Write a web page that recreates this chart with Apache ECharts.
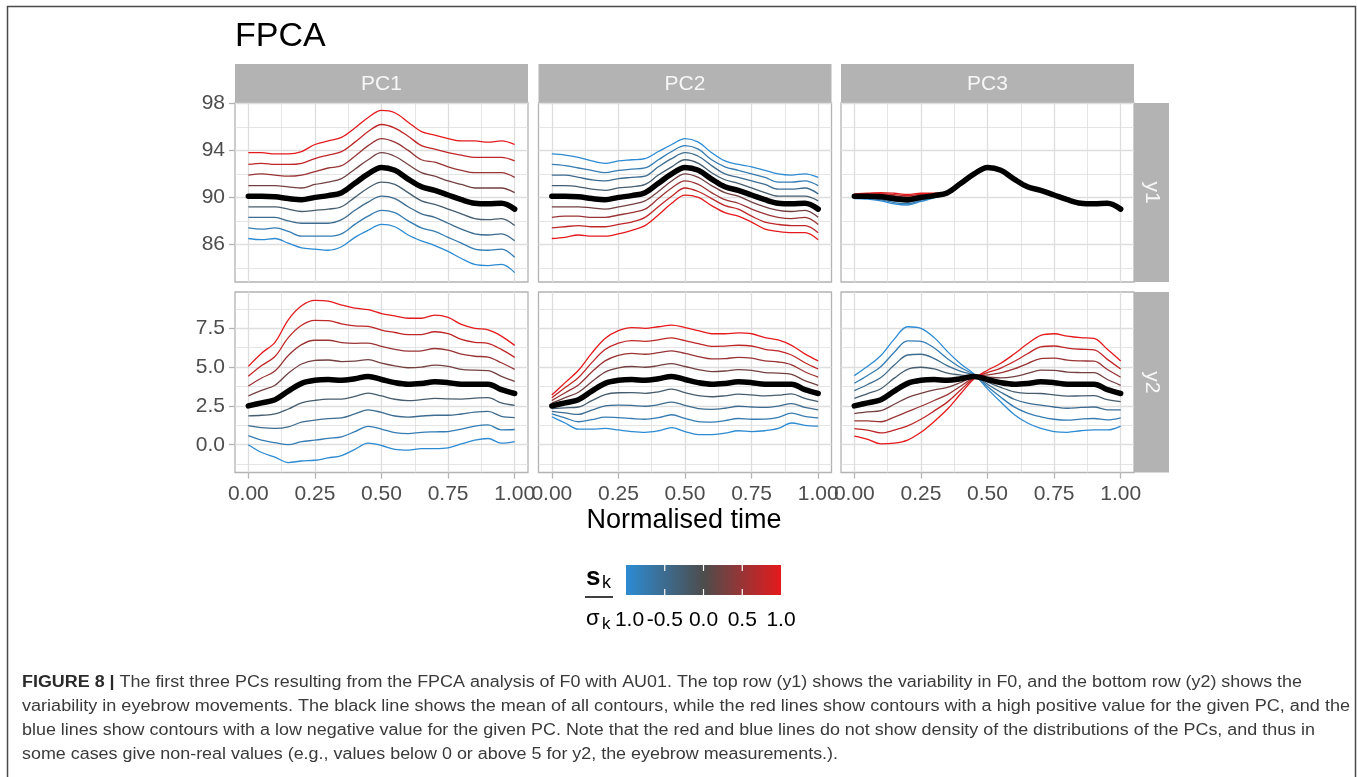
<!DOCTYPE html>
<html><head><meta charset="utf-8">
<script src="https://cdn.jsdelivr.net/npm/echarts@6/dist/echarts.min.js"></script>
<style>html,body{margin:0;padding:0;background:#fff;}#c{width:1357px;height:777px;}</style>
</head><body><div id="c"></div>
<script>
// ---------- data ----------
const tGrid = [0,0.05,0.1,0.15,0.2,0.25,0.3,0.35,0.4,0.45,0.5,0.55,0.6,0.65,0.7,0.75,0.8,0.85,0.9,0.95,1];
const sLevels = [-1,-0.75,-0.5,-0.25,0.25,0.5,0.75,1];
const pcNames = ['PC1','PC2','PC3'];
const rowNames = ['y1','y2'];
const xMajor = [0,0.25,0.5,0.75,1];
const xMinor = [0.125,0.375,0.625,0.875];
const y1Major = [86,90,94,98];
const y1Minor = [84,88,92,96];
const y2Major = [0,2.5,5,7.5];
const y2Minor = [-1.25,1.25,3.75,6.25,8.75];
const legendBreaks = [-1,-0.5,0,0.5,1];

const meanY1 = [90.1,90.1,90.05,89.9,89.8,90.0,90.15,90.4,91.2,92.0,92.55,92.3,91.55,90.9,90.6,90.2,89.8,89.5,89.45,89.5,89.0];
const meanY2 = [2.5,2.7,2.9,3.45,3.95,4.15,4.2,4.15,4.25,4.4,4.2,4.0,3.9,3.95,4.05,4.0,3.9,3.9,3.9,3.55,3.3];

// lines in sLevels order
const pc1Y1 = [
 [86.5,86.4,86.5,86.1,85.7,85.6,85.5,85.8,86.6,87.2,87.7,87.5,86.8,86.3,85.9,85.4,84.8,84.3,84.2,84.3,83.6],
 [87.4,87.3,87.4,87.1,86.7,86.7,86.7,86.9,87.7,88.4,88.9,88.7,88.0,87.4,87.1,86.6,86.1,85.6,85.5,85.6,84.9],
 [88.3,88.3,88.3,88.0,87.8,87.8,87.8,88.1,88.9,89.6,90.1,89.9,89.2,88.6,88.3,87.8,87.3,86.9,86.8,86.9,86.3],
 [89.2,89.2,89.2,89.0,88.8,88.9,89.0,89.2,90.0,90.8,91.3,91.1,90.4,89.7,89.4,89.0,88.6,88.2,88.1,88.2,87.6],
 [91.0,91.0,91.0,90.9,90.8,91.1,91.3,91.6,92.4,93.2,93.8,93.5,92.8,92.1,91.8,91.4,91.1,90.8,90.8,90.8,90.4],
 [91.9,92.0,91.9,91.8,91.9,92.2,92.5,92.7,93.5,94.4,95.0,94.7,94.0,93.2,93.0,92.6,92.3,92.1,92.1,92.1,91.7],
 [92.8,92.9,92.8,92.8,92.9,93.3,93.6,93.9,94.7,95.6,96.2,95.9,95.2,94.4,94.1,93.8,93.6,93.4,93.4,93.4,93.1],
 [93.8,93.8,93.7,93.7,93.9,94.5,94.8,95.1,95.9,96.8,97.4,97.2,96.4,95.6,95.3,95.0,94.8,94.8,94.7,94.8,94.5]
];
const pc2Y1 = [
 [93.7,93.6,93.4,93.1,92.9,93.1,93.2,93.3,93.9,94.5,95.0,94.7,93.8,93.1,92.8,92.6,92.3,92.0,91.9,92.0,91.7],
 [92.8,92.7,92.5,92.3,92.1,92.3,92.4,92.5,93.2,93.9,94.4,94.1,93.2,92.6,92.3,92.0,91.7,91.3,91.3,91.4,91.0],
 [91.9,91.9,91.7,91.5,91.4,91.6,91.7,91.8,92.6,93.3,93.8,93.5,92.7,92.0,91.7,91.4,91.1,90.7,90.7,90.8,90.3],
 [91.0,91.0,90.9,90.7,90.6,90.8,90.9,91.1,91.9,92.6,93.2,92.9,92.1,91.5,91.2,90.8,90.4,90.1,90.1,90.1,89.7],
 [89.2,89.2,89.2,89.1,89.0,89.2,89.4,89.7,90.5,91.4,92.0,91.7,91.0,90.4,90.1,89.6,89.2,88.9,88.8,88.9,88.3],
 [88.3,88.4,88.4,88.3,88.3,88.5,88.7,89.0,89.9,90.8,91.4,91.1,90.4,89.8,89.5,89.0,88.6,88.3,88.2,88.3,87.7],
 [87.4,87.5,87.6,87.5,87.5,87.7,87.9,88.3,89.2,90.1,90.8,90.5,89.9,89.3,89.0,88.4,87.9,87.7,87.6,87.6,87.0],
 [86.5,86.6,86.8,86.7,86.7,86.9,87.2,87.6,88.5,89.5,90.2,90.0,89.3,88.7,88.4,87.9,87.3,87.1,87.0,87.0,86.4]
];
const pc3Y1 = [
 [89.9,89.85,89.7,89.45,89.35,89.65,89.95,90.3,91.15,91.98,92.55,92.3,91.55,90.9,90.6,90.2,89.8,89.5,89.45,89.5,89.0],
 [89.95,89.91,89.79,89.56,89.46,89.74,90.0,90.33,91.16,91.99,92.55,92.3,91.55,90.9,90.6,90.2,89.8,89.5,89.45,89.5,89.0],
 [90.0,89.98,89.88,89.68,89.58,89.83,90.05,90.35,91.18,91.99,92.55,92.3,91.55,90.9,90.6,90.2,89.8,89.5,89.45,89.5,89.0],
 [90.05,90.04,89.96,89.79,89.69,89.91,90.1,90.38,91.19,92.0,92.55,92.3,91.55,90.9,90.6,90.2,89.8,89.5,89.45,89.5,89.0],
 [90.15,90.16,90.14,90.01,89.91,90.09,90.2,90.43,91.21,92.0,92.55,92.3,91.55,90.9,90.6,90.2,89.8,89.5,89.45,89.5,89.0],
 [90.2,90.23,90.23,90.13,90.03,90.18,90.25,90.45,91.23,92.01,92.55,92.3,91.55,90.9,90.6,90.2,89.8,89.5,89.45,89.5,89.0],
 [90.25,90.29,90.31,90.24,90.14,90.26,90.3,90.48,91.24,92.02,92.55,92.3,91.55,90.9,90.6,90.2,89.8,89.5,89.45,89.5,89.0],
 [90.3,90.35,90.4,90.35,90.25,90.35,90.35,90.5,91.25,92.02,92.55,92.3,91.55,90.9,90.6,90.2,89.8,89.5,89.45,89.5,89.0]
];
const pc1Y2 = [
 [0.0,-0.5,-0.8,-1.15,-1.05,-1.0,-0.85,-0.7,-0.3,0.1,-0.05,-0.3,-0.35,-0.25,-0.25,-0.2,0.05,0.3,0.4,0.1,0.2],
 [0.59,0.3,0.13,0.0,0.2,0.29,0.41,0.51,0.84,1.18,1.01,0.78,0.71,0.8,0.83,0.85,1.01,1.2,1.28,0.96,0.98],
 [1.23,1.1,1.05,1.15,1.45,1.58,1.68,1.73,1.98,2.25,2.08,1.85,1.78,1.85,1.9,1.9,1.98,2.1,2.15,1.83,1.75],
 [1.86,1.9,1.98,2.3,2.7,2.86,2.94,2.94,3.11,3.33,3.14,2.93,2.84,2.9,2.98,2.95,2.94,3.0,3.03,2.69,2.53],
 [3.14,3.5,3.83,4.6,5.2,5.44,5.46,5.36,5.39,5.48,5.26,5.08,4.96,5.0,5.13,5.05,4.86,4.8,4.78,4.41,4.08],
 [3.78,4.3,4.75,5.75,6.45,6.73,6.73,6.58,6.53,6.55,6.33,6.15,6.03,6.05,6.2,6.1,5.83,5.7,5.65,5.28,4.85],
 [4.41,5.1,5.68,6.9,7.7,8.01,7.99,7.79,7.66,7.63,7.39,7.23,7.09,7.1,7.28,7.15,6.79,6.6,6.53,6.14,5.63],
 [5.05,5.9,6.6,8.05,8.95,9.3,9.25,9.0,8.8,8.7,8.45,8.3,8.15,8.15,8.35,8.2,7.75,7.5,7.4,7.0,6.4]
];
const pc2Y2 = [
 [1.8,1.4,1.0,1.0,1.05,0.95,0.85,0.8,0.9,1.1,0.85,0.65,0.65,0.75,0.9,0.85,0.9,1.05,1.4,1.25,1.2],
 [1.98,1.73,1.48,1.61,1.78,1.75,1.69,1.64,1.74,1.93,1.69,1.49,1.46,1.55,1.69,1.64,1.65,1.76,2.03,1.83,1.73],
 [2.15,2.05,1.95,2.23,2.5,2.55,2.53,2.48,2.58,2.75,2.53,2.33,2.28,2.35,2.48,2.43,2.4,2.48,2.65,2.4,2.25],
 [2.33,2.38,2.43,2.84,3.23,3.35,3.36,3.31,3.41,3.58,3.36,3.16,3.09,3.15,3.26,3.21,3.15,3.19,3.28,2.98,2.78],
 [2.68,3.03,3.38,4.06,4.68,4.95,5.04,4.99,5.09,5.23,5.04,4.84,4.71,4.75,4.84,4.79,4.65,4.61,4.53,4.13,3.83],
 [2.85,3.35,3.85,4.68,5.4,5.75,5.88,5.83,5.93,6.05,5.88,5.68,5.53,5.55,5.63,5.58,5.4,5.33,5.15,4.7,4.35],
 [3.03,3.68,4.33,5.29,6.13,6.55,6.71,6.66,6.76,6.88,6.71,6.51,6.34,6.35,6.41,6.36,6.15,6.04,5.78,5.28,4.88],
 [3.2,4.0,4.8,5.9,6.85,7.35,7.55,7.5,7.6,7.7,7.55,7.35,7.15,7.15,7.2,7.15,6.9,6.75,6.4,5.85,5.4]
];
const pc3Y2 = [
 [4.45,5.05,5.75,6.8,7.6,7.5,6.9,6.0,5.2,4.55,3.6,2.75,1.95,1.4,1.05,0.85,0.8,0.9,0.95,0.95,1.2],
 [3.96,4.46,5.04,5.96,6.69,6.66,6.23,5.54,4.96,4.51,3.75,3.06,2.44,2.04,1.8,1.64,1.58,1.65,1.69,1.6,1.73],
 [3.48,3.88,4.33,5.13,5.78,5.83,5.55,5.08,4.73,4.48,3.9,3.38,2.93,2.68,2.55,2.43,2.35,2.4,2.43,2.25,2.25],
 [2.99,3.29,3.61,4.29,4.86,4.99,4.88,4.61,4.49,4.44,4.05,3.69,3.41,3.31,3.3,3.21,3.13,3.15,3.16,2.9,2.78],
 [2.01,2.11,2.19,2.61,3.04,3.31,3.53,3.69,4.01,4.36,4.35,4.31,4.39,4.59,4.8,4.79,4.68,4.65,4.64,4.2,3.83],
 [1.53,1.53,1.48,1.78,2.13,2.48,2.85,3.23,3.78,4.33,4.5,4.63,4.88,5.23,5.55,5.58,5.45,5.4,5.38,4.85,4.35],
 [1.04,0.94,0.76,0.94,1.21,1.64,2.18,2.76,3.54,4.29,4.65,4.94,5.36,5.86,6.3,6.36,6.23,6.15,6.11,5.5,4.88],
 [0.55,0.35,0.05,0.1,0.3,0.8,1.5,2.3,3.3,4.25,4.8,5.25,5.85,6.5,7.05,7.15,7.0,6.9,6.85,6.15,5.4]
];

const captionLines = [
 'The first three PCs resulting from the FPCA analysis of F0 with AU01. The top row (y1) shows the variability in F0, and the bottom row (y2) shows the',
 'variability in eyebrow movements. The black line shows the mean of all contours, while the red lines show contours with a high positive value for the given PC, and the',
 'blue lines show contours with a low negative value for the given PC. Note that the red and blue lines do not show density of the distributions of the PCs, and thus in',
 'some cases give non-real values (e.g., values below 0 or above 5 for y2, the eyebrow measurements.).'
];

// ---------- layout / style ----------
const FONT = '"Liberation Sans", Arial, sans-serif';
const colLeft = [235, 538.5, 841], colW = 293;
const rowTop = [103, 292], rowH = [179, 180.5];
const yRange = [[82.8, 98.03], [-1.79, 9.84]];
const GRID_C = '#DEDEDE', BORDER_C = '#B3B3B3';
const lowRGB = [45,139,211], midRGB = [77,77,77], highRGB = [228,26,28];
function levelColor(s){
  const e = s < 0 ? lowRGB : highRGB, f = Math.abs(s);
  const c = midRGB.map((m,i)=>Math.round(m + (e[i]-m)*f));
  return 'rgb(' + c.join(',') + ')';
}

const panelLines = [pc1Y1, pc2Y1, pc3Y1, pc1Y2, pc2Y2, pc3Y2];
const grids = [], xAxes = [], yAxes = [], series = [];
for (let p = 0; p < 6; p++) {
  const col = p % 3, row = Math.floor(p / 3);
  grids.push({left: colLeft[col], top: rowTop[row], width: colW, height: rowH[row],
    show: true, borderColor: BORDER_C, borderWidth: 1.3, backgroundColor: 'rgba(0,0,0,0)'});
}
function mkX(p, vals, major){
  const row = Math.floor(p/3);
  return {type:'value', gridIndex:p, min:-0.05, max:1.05,
    axisLine:{show:false, onZero:false},
    axisTick:{show: major && row===1, length:6, customValues: vals, lineStyle:{color:BORDER_C, width:1.3}},
    axisLabel:{show: major && row===1, customValues: vals, margin:11, color:'#4D4D4D', fontSize:21, fontFamily:FONT,
      formatter: v => Number(v).toFixed(2)},
    splitLine:{show:true, lineStyle:{color:GRID_C, width: major?1.3:0.8}}};
}
function mkY(p, vals, major){
  const row = Math.floor(p/3), col = p % 3;
  return {type:'value', gridIndex:p, min:yRange[row][0], max:yRange[row][1],
    axisLine:{show:false, onZero:false},
    axisTick:{show: major && col===0, length:6, customValues: vals, lineStyle:{color:BORDER_C, width:1.3}},
    axisLabel:{show: major && col===0, customValues: vals, margin:10, color:'#4D4D4D', fontSize:21, fontFamily:FONT,
      formatter: v => row===0 ? String(v) : Number(v).toFixed(1)},
    splitLine:{show:true, lineStyle:{color:GRID_C, width: major?1.3:0.8}}};
}
for (let p = 0; p < 6; p++) {
  const row = Math.floor(p/3);
  xAxes.push(mkX(p, xMajor, true));
  yAxes.push(mkY(p, row===0 ? y1Major : y2Major, true));
}
for (let p = 0; p < 6; p++) {
  const row = Math.floor(p/3);
  xAxes.push(mkX(p, xMinor, false));
  yAxes.push(mkY(p, row===0 ? y1Minor : y2Minor, false));
}
for (let p = 0; p < 6; p++) {
  const row = Math.floor(p/3);
  const lines = panelLines[p];
  sLevels.forEach((s, i) => {
    series.push({type:'line', xAxisIndex:p, yAxisIndex:p, showSymbol:false, smooth:0.35, silent:true, z:2,
      lineStyle:{color:levelColor(s), width:1.3},
      data: tGrid.map((t,j)=>[t, lines[i][j]])});
  });
  const mean = row === 0 ? meanY1 : meanY2;
  series.push({type:'line', xAxisIndex:p, yAxisIndex:p, showSymbol:false, smooth:0.35, silent:true, z:3,
    lineStyle:{color:'#000', width:5.5, cap:'round', join:'round'},
    data: tGrid.map((t,j)=>[t, mean[j]])});
}

// ---------- graphics: frame, title, strips, legend, caption ----------
const g = [];
g.push({type:'rect', shape:{x:7.5, y:6.5, width:1348, height:820}, style:{fill:'none', stroke:'#4a4a4a', lineWidth:1.5}, silent:true});
g.push({type:'text', x:235, y:37, style:{text:'FPCA', font:'34px ' + FONT, fill:'#000', verticalAlign:'middle', align:'left'}});
for (let c = 0; c < 3; c++) {
  g.push({type:'rect', shape:{x:colLeft[c], y:64, width:colW, height:39}, style:{fill:BORDER_C}, silent:true});
  g.push({type:'text', x:colLeft[c] + colW/2, y:84, style:{text:pcNames[c], font:'21px ' + FONT, fill:'#F7F7F7', align:'center', verticalAlign:'middle'}});
}
for (let r = 0; r < 2; r++) {
  g.push({type:'rect', shape:{x:colLeft[2] + colW, y:rowTop[r], width:35, height:rowH[r]}, style:{fill:BORDER_C}, silent:true});
  g.push({type:'text', x:colLeft[2] + colW + 17.5, y:rowTop[r] + rowH[r]/2, rotation:-Math.PI/2,
    style:{text:rowNames[r], font:'21px ' + FONT, fill:'#F7F7F7', align:'center', verticalAlign:'middle'}});
}
g.push({type:'text', x:684, y:521, style:{text:'Normalised time', font:'27px ' + FONT, fill:'#000', align:'center', verticalAlign:'middle'}});

// colour bar legend
const barX = 626, barW = 155, barY = 565, barH = 30;
g.push({type:'rect', shape:{x:barX, y:barY, width:barW, height:barH}, silent:true,
  style:{fill: new echarts.graphic.LinearGradient(0,0,1,0,[
    {offset:0, color:levelColor(-1)},{offset:0.25, color:levelColor(-0.5)},{offset:0.5, color:levelColor(0)},
    {offset:0.75, color:levelColor(0.5)},{offset:1, color:levelColor(1)}])}});
legendBreaks.forEach(v => {
  const x = barX + (v + 1) / 2 * barW;
  if (v > -1 && v < 1) {
    g.push({type:'line', shape:{x1:x, y1:barY, x2:x, y2:barY+6}, style:{stroke:'#fff', lineWidth:1.2}, silent:true});
    g.push({type:'line', shape:{x1:x, y1:barY+barH-6, x2:x, y2:barY+barH}, style:{stroke:'#fff', lineWidth:1.2}, silent:true});
  }
  g.push({type:'text', x:x, y:620, z:1, style:{text:v.toFixed(1), font:'21px ' + FONT, fill:'#000', align:'center', verticalAlign:'middle'}});
});
g.push({type:'text', x:586, y:578, style:{text:'s', font:'bold 26px ' + FONT, fill:'#000', align:'left', verticalAlign:'middle'}});
g.push({type:'text', x:602, y:583, style:{text:'k', font:'18px ' + FONT, fill:'#000', align:'left', verticalAlign:'middle'}});
g.push({type:'line', shape:{x1:585, y1:597, x2:613, y2:597}, style:{stroke:'#000', lineWidth:1.5}, silent:true});
g.push({type:'rect', z:5, shape:{x:603, y:613, width:11, height:16}, style:{fill:'#fff'}, silent:true});
g.push({type:'text', x:586, y:619, z:6, style:{text:'σ', font:'22px ' + FONT, fill:'#000', align:'left', verticalAlign:'middle'}});
g.push({type:'text', x:602, y:624, z:6, style:{text:'k', font:'17px ' + FONT, fill:'#000', align:'left', verticalAlign:'middle'}});

// caption
const capSize = 16;
const cv = document.createElement('canvas').getContext('2d');
function tw(str, bold){ cv.font = (bold ? 'bold ' : '') + capSize + 'px ' + FONT; return cv.measureText(str).width; }
const capTargets = [1280, 1328, 1293, 816];
const capY = [683, 707, 731, 755];
captionLines.forEach((txt, i) => {
  let w, text;
  if (i === 0) { w = tw('FIGURE 8 |', true) + tw(' ' + txt, false); text = '{b|FIGURE 8 |} ' + txt; }
  else { w = tw(txt, false); text = txt; }
  const sc = capTargets[i] / w;
  g.push({type:'text', x:22, y:capY[i], scaleX:sc, style:{text:text, font:capSize + 'px ' + FONT, fill:'#3a3a3a', align:'left', verticalAlign:'middle',
    rich:{b:{fontWeight:'bold', fontSize:capSize, fontFamily:FONT, fill:'#2a2a2a'}}}});
});

const chart = echarts.init(document.getElementById('c'), null, {renderer:'canvas'});
chart.setOption({animation:false, backgroundColor:'#fff', grid:grids, xAxis:xAxes, yAxis:yAxes, series:series, graphic:{elements:g}});
</script>
</body></html>
